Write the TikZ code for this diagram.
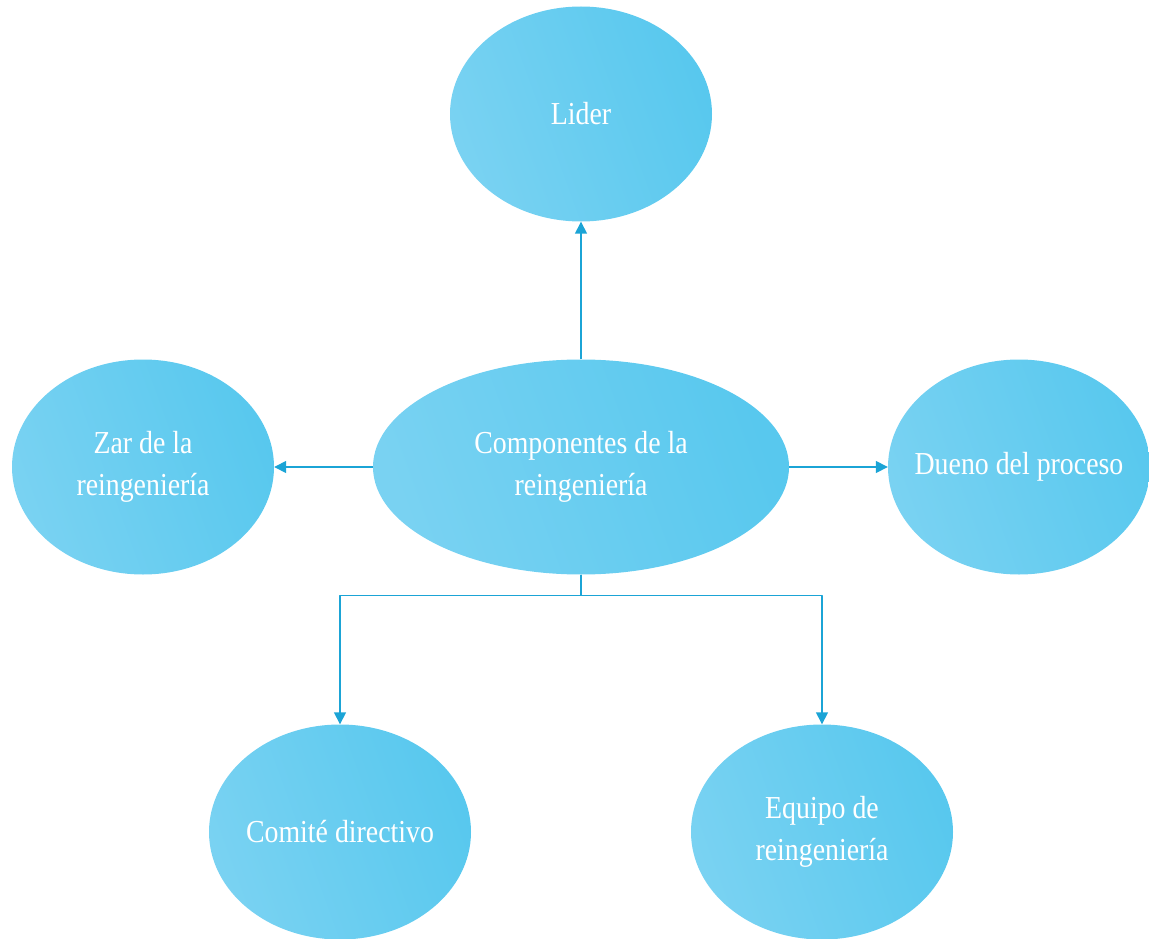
\documentclass[tikz,border=0pt]{standalone}
\usepackage{fontspec}
\setmainfont[FakeStretch=0.87]{Liberation Serif}
\usetikzlibrary{arrows.meta,shapes.geometric}

\definecolor{bluelight}{HTML}{79D2F2}
\definecolor{bluedark}{HTML}{58C8EE}
\definecolor{arrowblue}{HTML}{1BA4D6}

\tikzset{
  comp/.style={ellipse, draw=none, inner sep=0pt, left color=bluelight, right color=bluedark,
    shading angle=110, text=white, align=center, font=\fontsize{32}{42}\selectfont,
    minimum width=262, minimum height=215},
  link/.style={draw=arrowblue, line width=1.5pt, -{Triangle[length=12pt,width=12pt]}}
}

\begin{document}
\begin{tikzpicture}[x=1pt, y=-1pt, line join=round]
		\useasboundingbox (0,0) rectangle (1149,939);
		
		% nodes
		\node[comp, minimum width=416] (centro) at (581,467) {Componentes de la\\reingeniería};
		\node[comp] (lider) at (581,114) {Lider};
		\node[comp] (zar) at (143,467) {Zar de la\\reingeniería};
		\node[comp] (dueno) at (1019,467) {\makebox[0pt][c]{Dueno del proceso}};
		\node[comp] (comite) at (340,832) {\makebox[0pt][c]{Comité directivo}};
		\node[comp] (equipo) at (822,832) {Equipo de\\reingeniería};
		
		% arrows
		\draw[link] (centro) -- (lider);
		\draw[link] (centro) -- (zar);
		\draw[link] (centro) -- (dueno);
		\draw[link] (centro.south) -- ++(0,21) -| (comite.north);
		\draw[link] (centro.south) -- ++(0,21) -| (equipo.north);
		
\end{tikzpicture}
\end{document}
